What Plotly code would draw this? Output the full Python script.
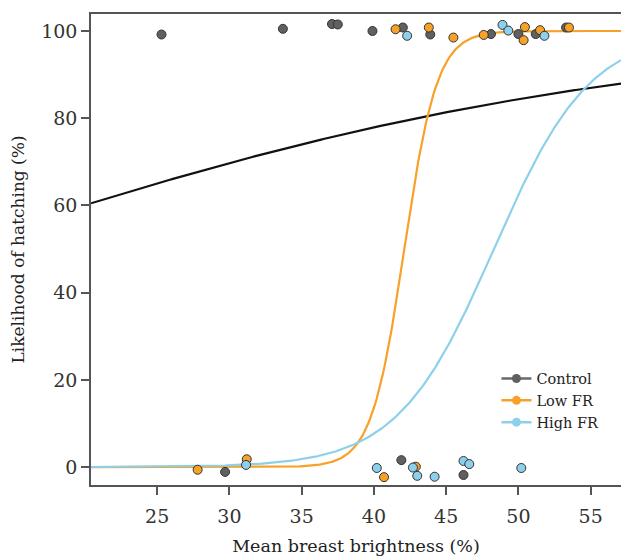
import numpy as np
import plotly.graph_objects as go

# ---- data ----
groups = ["Control", "Low FR", "High FR"]

# fitted logistic curves: logit(p) = intercept + slope * brightness
fit_intercept = {"Control": -0.444, "Low FR": -37.05, "High FR": -14.49}
fit_slope = {"Control": 0.0426, "Low FR": 0.88, "High FR": 0.30}

# observed nests (jittered around 0 / 100 as in the figure)
control_x = [25.3, 33.7, 37.1, 37.5, 39.9, 42.0, 43.9, 48.1, 50.0, 51.2, 53.3,
             29.7, 41.9, 46.2]
control_y = [99.2, 100.5, 101.6, 101.5, 100.0, 100.8, 99.2, 99.3, 99.3, 99.3, 100.8,
             -1.1, 1.6, -1.8]

lowfr_x = [41.5, 43.8, 45.5, 47.6, 50.45, 50.36, 51.5, 53.5,
           27.8, 31.2, 40.7, 42.9]
lowfr_y = [100.4, 100.8, 98.5, 99.1, 100.9, 97.9, 100.2, 100.8,
           -0.6, 1.8, -2.3, 0.1]

highfr_x = [42.3, 48.9, 49.3, 51.8,
            31.15, 40.2, 42.7, 43.0, 44.2, 46.2, 46.6, 50.2]
highfr_y = [98.9, 101.4, 100.1, 98.9,
            0.5, -0.2, -0.1, -2.0, -2.2, 1.4, 0.7, -0.2]

x_ticks = [25, 30, 35, 40, 45, 50, 55]
y_ticks = [0, 20, 40, 60, 80, 100]

# ---- styles ----
line_col = {"Control": "#111111", "Low FR": "#F7A128", "High FR": "#8DD0EC"}
marker_col = {"Control": "#606060", "Low FR": "#F7A128", "High FR": "#8DD0EC"}
legend_line_col = {"Control": "#6a6a6a", "Low FR": "#F7A128", "High FR": "#8DD0EC"}

XMIN, XMAX = 20.42, 57.1
xs = np.linspace(XMIN, XMAX, 400)

fig = go.Figure()

for g in groups:
    p = 100.0 / (1.0 + np.exp(-(fit_intercept[g] + fit_slope[g] * xs)))
    fig.add_trace(go.Scatter(x=xs, y=p, mode="lines", showlegend=False,
                             line=dict(color=line_col[g], width=2.2),
                             hoverinfo="skip"))

pts = {"Control": (control_x, control_y), "Low FR": (lowfr_x, lowfr_y),
       "High FR": (highfr_x, highfr_y)}
for g in groups:
    px, py = pts[g]
    fig.add_trace(go.Scatter(x=px, y=py, mode="markers", showlegend=False,
                             marker=dict(size=9, color=marker_col[g],
                                         line=dict(color="#333333", width=1))))

# legend entries (line + marker glyph)
for g in groups:
    fig.add_trace(go.Scatter(x=[None], y=[None], mode="lines+markers", name=g,
                             line=dict(color=legend_line_col[g], width=2.5),
                             marker=dict(size=9, color=marker_col[g])))

font_family = "DejaVu Serif"

fig.update_layout(
    width=622, height=558,
    margin=dict(l=91, r=1, t=14, b=73),
    paper_bgcolor="white", plot_bgcolor="white",
    font=dict(family=font_family, size=17, color="#222222"),
    showlegend=True,
    legend=dict(x=0.765, y=0.26, xanchor="left", yanchor="top",
                bgcolor="rgba(0,0,0,0)", font=dict(size=14.5, family=font_family),
                tracegroupgap=0, itemwidth=30),
    xaxis=dict(range=[XMIN, XMAX], tickvals=x_ticks, ticktext=[str(t) for t in x_ticks],
               showgrid=False, zeroline=False, showline=True, linecolor="#555555",
               linewidth=1.5, mirror=True, ticks="outside", ticklen=8,
               tickcolor="#555555", tickwidth=1.5, ticklabelstandoff=5,
               tickfont=dict(size=19, family=font_family, color="#333333"),
               title=dict(text="Mean breast brightness (%)", standoff=14,
                          font=dict(size=17.5, family=font_family, color="#222222"))),
    yaxis=dict(range=[-4.1, 103.9], tickvals=y_ticks, ticktext=[str(t) for t in y_ticks],
               showgrid=False, zeroline=False, showline=True, linecolor="#555555",
               linewidth=1.5, ticks="outside", ticklen=8,
               tickcolor="#555555", tickwidth=1.5,
               tickfont=dict(size=19, family=font_family, color="#333333"),
               title=dict(text="Likelihood of hatching (%)", standoff=12,
                          font=dict(size=17, family=font_family, color="#222222"))),
)

fig.write_html("out.html")
